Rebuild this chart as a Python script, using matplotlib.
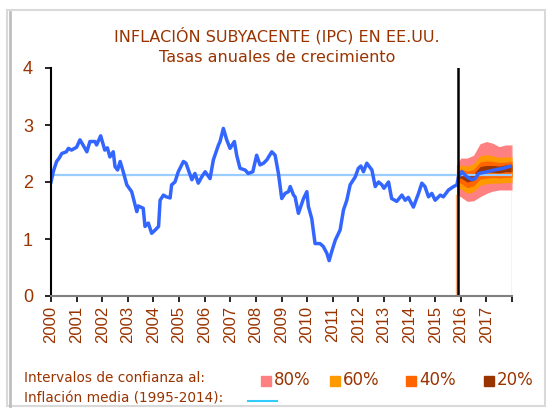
import matplotlib.pyplot as plt
from matplotlib.patches import Rectangle
from matplotlib.lines import Line2D

# Core inflation (CPI) history, annual growth rates
hist_t = [2000.00, 2000.10, 2000.22, 2000.32, 2000.42, 2000.60, 2000.68, 2000.80,
          2001.00, 2001.13, 2001.25, 2001.40, 2001.52, 2001.72, 2001.78, 2001.94,
          2002.10, 2002.20, 2002.30, 2002.43, 2002.50, 2002.60, 2002.70, 2002.82,
          2002.96, 2003.15, 2003.35, 2003.40, 2003.60, 2003.67, 2003.80, 2003.93,
          2004.05, 2004.20, 2004.26, 2004.39, 2004.50, 2004.65, 2004.71, 2004.84,
          2004.97, 2005.17, 2005.27, 2005.50, 2005.62, 2005.75, 2005.90, 2006.02,
          2006.21, 2006.34, 2006.54, 2006.60, 2006.73, 2006.86, 2006.99, 2007.16,
          2007.25, 2007.38, 2007.58, 2007.70, 2007.88, 2008.03, 2008.16, 2008.30,
          2008.43, 2008.62, 2008.75, 2008.88, 2009.01, 2009.14, 2009.27, 2009.34,
          2009.47, 2009.53, 2009.66, 2009.86, 2009.99, 2010.05, 2010.18, 2010.31,
          2010.50, 2010.63, 2010.77, 2010.86, 2010.96, 2011.10, 2011.29, 2011.42,
          2011.55, 2011.68, 2011.88, 2012.00, 2012.10, 2012.20, 2012.33, 2012.53,
          2012.66, 2012.79, 2012.92, 2013.00, 2013.18, 2013.30, 2013.50, 2013.70,
          2013.83, 2013.95, 2014.15, 2014.35, 2014.48, 2014.60, 2014.74, 2014.87,
          2015.00, 2015.20, 2015.32, 2015.52, 2015.72, 2015.85, 2015.91, 2016.04,
          2016.24, 2016.43, 2016.56, 2016.70, 2017.03, 2017.40, 2017.67, 2017.86,
          2018.00]
hist_v = [2.00, 2.20, 2.36, 2.42, 2.50, 2.53, 2.59, 2.56,
          2.61, 2.74, 2.65, 2.53, 2.71, 2.71, 2.65, 2.81,
          2.56, 2.60, 2.44, 2.53, 2.27, 2.21, 2.36, 2.18,
          1.95, 1.83, 1.48, 1.58, 1.54, 1.22, 1.28, 1.10,
          1.15, 1.22, 1.68, 1.77, 1.74, 1.72, 1.95, 2.00,
          2.18, 2.36, 2.33, 2.04, 2.15, 1.98, 2.10, 2.18,
          2.06, 2.39, 2.65, 2.71, 2.94, 2.74, 2.59, 2.71,
          2.47, 2.24, 2.21, 2.15, 2.18, 2.47, 2.30, 2.33,
          2.39, 2.53, 2.47, 2.15, 1.71, 1.80, 1.83, 1.92,
          1.77, 1.74, 1.45, 1.71, 1.83, 1.57, 1.36, 0.92,
          0.92, 0.87, 0.75, 0.62, 0.78, 0.98, 1.16, 1.51,
          1.68, 1.95, 2.09, 2.24, 2.28, 2.18, 2.33, 2.21,
          1.92, 2.00, 1.95, 1.89, 2.00, 1.71, 1.66, 1.77,
          1.68, 1.73, 1.56, 1.80, 1.98, 1.92, 1.74, 1.80,
          1.68, 1.77, 1.74, 1.86, 1.92, 1.95, 2.09, 2.18,
          2.09, 2.04, 2.06, 2.15, 2.18, 2.22, 2.24, 2.27,
          2.28]

# Fan chart (confidence intervals)
fan_t = [2015.83, 2016.0, 2016.25, 2016.5, 2016.75, 2017.0, 2017.25, 2017.5, 2017.75, 2018.0]
up80 = [2.30, 2.42, 2.42, 2.47, 2.67, 2.71, 2.68, 2.62, 2.65, 2.65]
up60 = [2.22, 2.30, 2.28, 2.32, 2.46, 2.48, 2.46, 2.43, 2.44, 2.44]
up40 = [2.17, 2.23, 2.19, 2.22, 2.35, 2.37, 2.36, 2.34, 2.35, 2.36]
up20 = [2.12, 2.16, 2.11, 2.14, 2.27, 2.29, 2.29, 2.28, 2.30, 2.30]
lo20 = [2.04, 2.07, 2.00, 2.03, 2.15, 2.17, 2.17, 2.16, 2.18, 2.18]
lo40 = [1.98, 1.98, 1.90, 1.93, 2.05, 2.07, 2.08, 2.07, 2.08, 2.08]
lo60 = [1.90, 1.88, 1.80, 1.83, 1.94, 1.97, 1.98, 1.98, 1.99, 1.99]
lo80 = [1.78, 1.74, 1.66, 1.67, 1.74, 1.80, 1.84, 1.86, 1.86, 1.86]

mean_infl = 2.12
forecast_start = 2015.9
years = list(range(2000, 2019))
year_labels = [str(y) for y in range(2000, 2018)]

brown = '#993300'
plt.rcParams['font.family'] = ['DejaVu Sans']

fig = plt.figure(figsize=(5.46, 4.13), dpi=100)

# grey frame of the pasted chart
fig.patches.append(Rectangle((7 / 546, 1 - 406 / 413), 538 / 546, 396 / 413,
                             transform=fig.transFigure, fill=False,
                             edgecolor='#d9d9d9', lw=1.5))
fig.add_artist(Line2D([10 / 546, 10 / 546], [1 - 406 / 413, 1 - 12 / 413],
                      transform=fig.transFigure, color='#bfbfbf', lw=2))

ax = fig.add_axes([51 / 546, 1 - 296 / 413, 461 / 546, 228 / 413])

# fan bands
ax.fill_between(fan_t, lo80, up80, color='#FF8080', lw=0)
ax.fill_between(fan_t, lo60, up60, color='#FF9900', lw=0)
ax.fill_between(fan_t, lo40, up40, color='#FF6600', lw=0)
ax.fill_between(fan_t, lo20, up20, color='#993300', lw=0)
ax.plot([fan_t[0], fan_t[0]], [0, lo80[0]], color='#FFB080', lw=1)
ax.plot([fan_t[-1], fan_t[-1]], [0, up80[-1]], color='#FFB080', lw=1)

# mean inflation line
ax.plot([2000, 2018], [mean_infl, mean_infl], color='#99CCFF', lw=1.6)

# series
ax.plot(hist_t, hist_v, color='#3366FF', lw=2.5, solid_joinstyle='round')

# start of forecast
ax.axvline(forecast_start, color='black', lw=1.8)

ax.set_xlim(2000, 2018)
ax.set_ylim(0, 4)
ax.set_yticks([0, 1, 2, 3, 4])
ax.set_xticks(years)
ax.set_xticklabels(year_labels + [''], rotation=90, color=brown,
                   fontsize=12, family='Liberation Sans')
ax.tick_params(axis='y', colors='black', labelcolor=brown, labelsize=13,
               direction='out', length=4, width=1.2, pad=9)
ax.tick_params(axis='x', direction='out', length=4, width=1.2, pad=3)
for lab in ax.get_yticklabels():
    lab.set_family('Liberation Sans')

ax.spines['top'].set_visible(False)
ax.spines['right'].set_visible(False)
ax.spines['left'].set_linewidth(1.5)
ax.spines['bottom'].set_color('#808080')
ax.spines['bottom'].set_linewidth(1.5)

# titles
fig.text(277 / 546, 1 - 36 / 413, 'INFLACIÓN SUBYACENTE (IPC) EN EE.UU.',
         ha='center', va='center', color=brown, fontsize=11.5)
fig.text(277 / 546, 1 - 57 / 413, 'Tasas anuales de crecimiento',
         ha='center', va='center', color=brown, fontsize=11.5)

# legend
fig.text(24 / 546, 1 - 378 / 413, 'Intervalos de confianza al:',
         ha='left', va='center', color=brown, fontsize=9.8)
fig.text(24 / 546, 1 - 399 / 413, 'Inflación media (1995-2014):',
         ha='left', va='center', color=brown, fontsize=9.8)
fig.add_artist(Line2D([248 / 546, 277 / 546], [1 - 401 / 413, 1 - 401 / 413],
                      transform=fig.transFigure, color='#33CCFF', lw=1.5))

leg_items = [('80%', '#FF8080', 261), ('60%', '#FF9900', 330),
             ('40%', '#FF6600', 406), ('20%', '#993300', 484)]
for lab, col, px in leg_items:
    fig.patches.append(Rectangle((px / 546, 1 - 386 / 413), 10 / 546, 10 / 413,
                                 transform=fig.transFigure, color=col))
    fig.text((px + 13) / 546, 1 - 380 / 413, lab, ha='left', va='center',
             color=brown, fontsize=12)

plt.savefig('out.png', dpi=100)
